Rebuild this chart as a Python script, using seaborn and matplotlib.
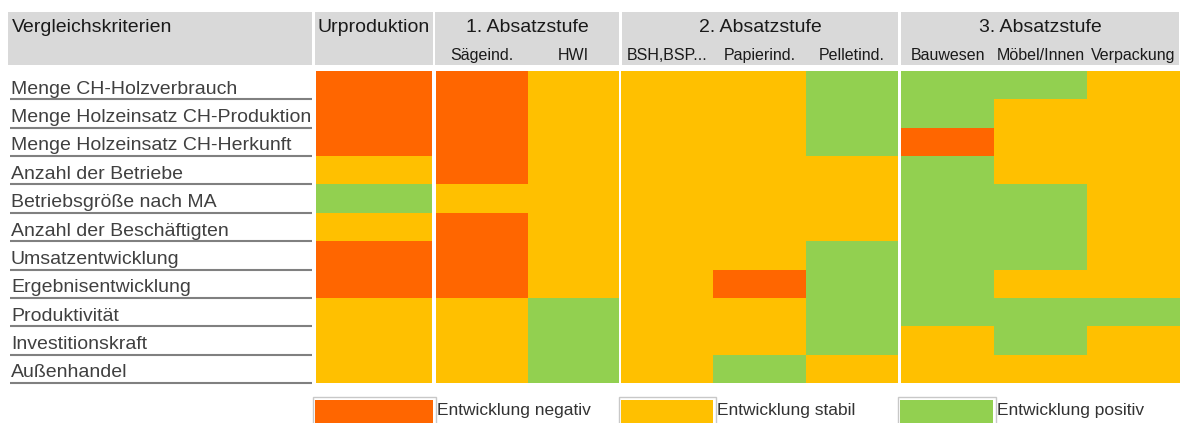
import matplotlib
matplotlib.use("Agg")
import matplotlib.pyplot as plt
import matplotlib.transforms as mtransforms
from matplotlib.colors import ListedColormap
from matplotlib.patches import Rectangle
import pandas as pd
import seaborn as sns

# 0 = Entwicklung negativ, 1 = stabil, 2 = positiv
kriterien = [
    "Menge CH-Holzverbrauch",
    "Menge Holzeinsatz CH-Produktion",
    "Menge Holzeinsatz CH-Herkunft",
    "Anzahl der Betriebe",
    "Betriebsgröße nach MA",
    "Anzahl der Beschäftigten",
    "Umsatzentwicklung",
    "Ergebnisentwicklung",
    "Produktivität",
    "Investitionskraft",
    "Außenhandel",
]
urproduktion = [0, 0, 0, 1, 2, 1, 0, 0, 1, 1, 1]
saegeind = [0, 0, 0, 0, 1, 0, 0, 0, 1, 1, 1]
hwi = [1, 1, 1, 1, 1, 1, 1, 1, 2, 2, 2]
bsh_bsp = [1, 1, 1, 1, 1, 1, 1, 1, 1, 1, 1]
papierind = [1, 1, 1, 1, 1, 1, 1, 0, 1, 1, 2]
pelletind = [2, 2, 2, 1, 1, 1, 2, 2, 2, 2, 1]
bauwesen = [2, 2, 0, 2, 2, 2, 2, 2, 2, 1, 1]
moebel_innen = [2, 1, 1, 1, 2, 2, 2, 1, 2, 2, 1]
verpackung = [1, 1, 1, 1, 1, 1, 1, 1, 2, 1, 1]

stufen = ["Urproduktion", "1. Absatzstufe", "2. Absatzstufe", "3. Absatzstufe"]
stufen_spalten = [
    ["Urproduktion"],
    ["Sägeind.", "HWI"],
    ["BSH,BSP...", "Papierind.", "Pelletind."],
    ["Bauwesen", "Möbel/Innen", "Verpackung"],
]
legende = ["Entwicklung negativ", "Entwicklung stabil", "Entwicklung positiv"]
farben = ["#FF6600", "#FFC000", "#92D050"]

df = pd.DataFrame(
    {
        "Urproduktion": urproduktion,
        "Sägeind.": saegeind,
        "HWI": hwi,
        "BSH,BSP...": bsh_bsp,
        "Papierind.": papierind,
        "Pelletind.": pelletind,
        "Bauwesen": bauwesen,
        "Möbel/Innen": moebel_innen,
        "Verpackung": verpackung,
    },
    index=kriterien,
)

W, H = 1184, 423
sns.set_theme(style="white")
plt.rcParams["font.family"] = ["Liberation Sans", "DejaVu Sans"]

fig = plt.figure(figsize=(W / 100, H / 100), dpi=100)
base = fig.add_axes([0, 0, 1, 1])
base.set_xlim(0, W)
base.set_ylim(H, 0)
base.axis("off")


def px_axes(x0, x1, y0, y1):
    return fig.add_axes([x0 / W, 1 - y1 / H, (x1 - x0) / W, (y1 - y0) / H])


cmap = ListedColormap(farben)
gruppen_x = [(316, 432), (436, 619), (621, 898), (901, 1180)]
kopf_x = [(315, 433), (435, 619), (622, 898), (901, 1179)]
top, bottom = 71, 383

achsen = []
for (x0, x1), spalten, name in zip(gruppen_x, stufen_spalten, stufen):
    ax = px_axes(x0, x1, top, bottom)
    sns.heatmap(df[spalten], cmap=cmap, vmin=0, vmax=2, cbar=False, ax=ax,
                xticklabels=spalten if len(spalten) > 1 else False,
                yticklabels=False, linewidths=0)
    ax.xaxis.tick_top()
    ax.set_xlabel("")
    ax.set_ylabel("")
    ax.tick_params(axis="x", length=0, pad=6, labelsize=11.5, labelcolor="#1a1a1a")
    plt.setp(ax.get_xticklabels(), rotation=0)
    achsen.append(ax)

# Kopfzeile
base.add_patch(Rectangle((8, 12), 304, 53, facecolor="#D9D9D9", edgecolor="none"))
base.text(12, 27, "Vergleichskriterien", fontsize=14, color="#1a1a1a", va="center", ha="left")
for (x0, x1), name in zip(kopf_x, stufen):
    base.add_patch(Rectangle((x0, 12), x1 - x0, 53, facecolor="#D9D9D9", edgecolor="none"))
    base.text((x0 + x1) / 2, 27, name, fontsize=14, color="#1a1a1a", va="center", ha="center")

# Zeilenbeschriftungen mit Unterstrich
blend = mtransforms.blended_transform_factory(base.transData, achsen[0].transData)
shift = mtransforms.offset_copy(blend, fig=fig, y=-4, units="dots")
for i, k in enumerate(kriterien):
    base.text(11, i + 0.5, k, transform=shift, fontsize=14, color="#404040",
              va="center", ha="left")
    base.plot([10, 312], [i + 1, i + 1], transform=blend, color="#808080", lw=1.5,
              solid_capstyle="butt")

# Legende
legende_x = [(312, 436), (618, 716), (897, 996)]
for (x0, x1), text, farbe in zip(legende_x, legende, farben):
    base.add_patch(Rectangle((x0 + 0.5, 397.5), x1 - x0 - 1, 40, facecolor="white",
                             edgecolor="#C8C8C8", lw=1))
    base.add_patch(Rectangle((x0 + 3, 400), x1 - x0 - 6, 40, facecolor=farbe, edgecolor="none"))
    base.text(x1 + 1, 411, text, fontsize=12.5, color="#333333", va="center", ha="left")

fig.savefig("out.png", dpi=100)
